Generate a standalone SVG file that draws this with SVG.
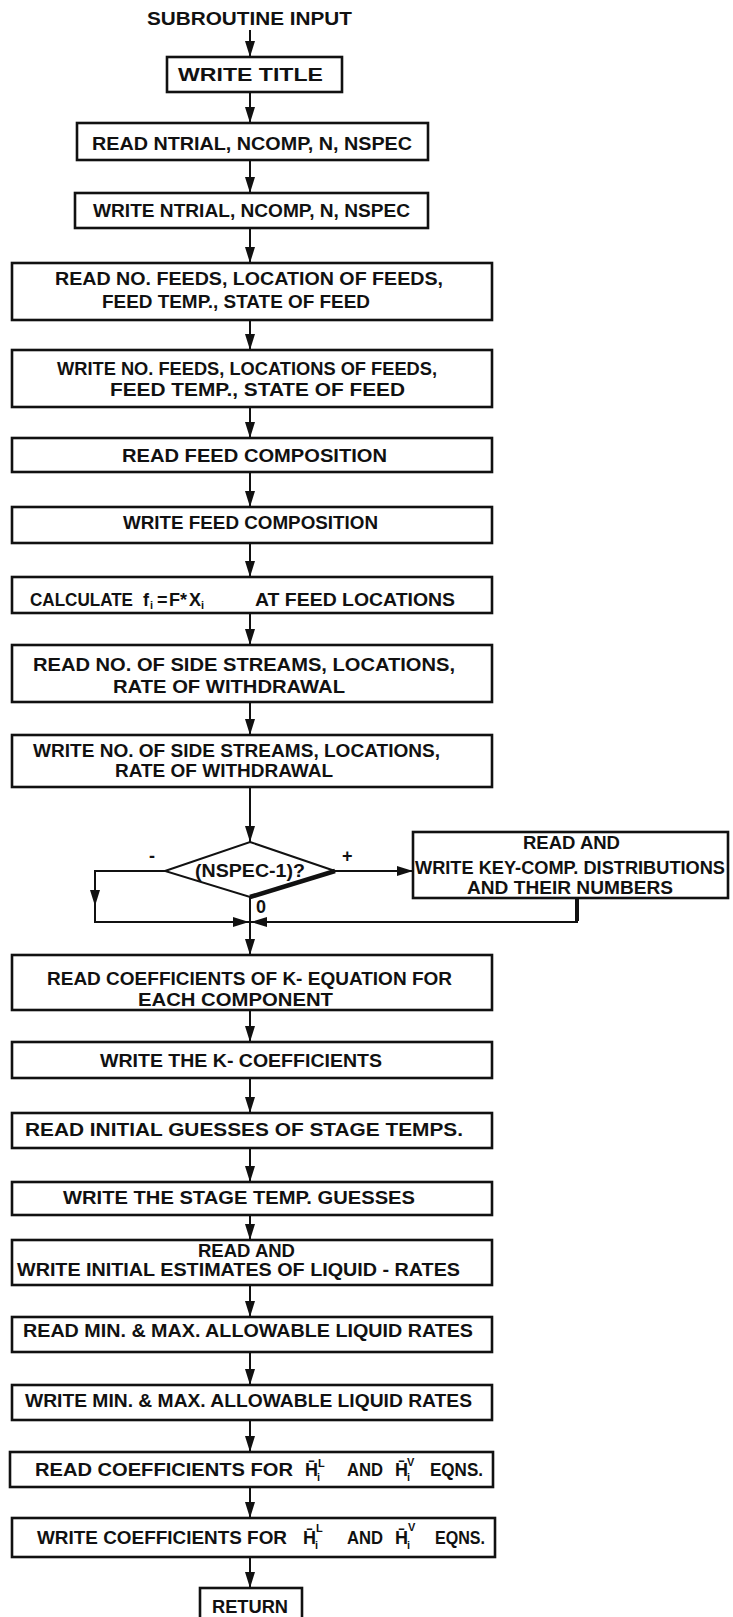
<svg xmlns="http://www.w3.org/2000/svg" width="733" height="1617" viewBox="0 0 733 1617">
<defs>
<style>
.t{font-family:"Liberation Sans",Arial,sans-serif;font-weight:bold;font-size:18px;fill:#111}
.s{font-family:"Liberation Sans",Arial,sans-serif;font-weight:bold;font-size:11px;fill:#111}
.b{fill:#fff;stroke:#111;stroke-width:2.6}
.c{fill:none;stroke:#111;stroke-width:2}
</style>
<marker id="ah" markerUnits="userSpaceOnUse" markerWidth="16" markerHeight="10" refX="16" refY="5" orient="auto">
<path d="M0,0 L16,5 L0,10 Z" fill="#111"/>
</marker>
</defs>
<rect width="733" height="1617" fill="#fff"/>

<g id="connectors">
<line class="c" x1="250" y1="30" x2="250" y2="57" marker-end="url(#ah)"/>
<line class="c" x1="250" y1="92" x2="250" y2="123" marker-end="url(#ah)"/>
<line class="c" x1="250" y1="160" x2="250" y2="193" marker-end="url(#ah)"/>
<line class="c" x1="250" y1="228" x2="250" y2="263" marker-end="url(#ah)"/>
<line class="c" x1="250" y1="320" x2="250" y2="350" marker-end="url(#ah)"/>
<line class="c" x1="250" y1="407" x2="250" y2="438" marker-end="url(#ah)"/>
<line class="c" x1="250" y1="472" x2="250" y2="507" marker-end="url(#ah)"/>
<line class="c" x1="250" y1="543" x2="250" y2="577" marker-end="url(#ah)"/>
<line class="c" x1="250" y1="613" x2="250" y2="645" marker-end="url(#ah)"/>
<line class="c" x1="250" y1="702" x2="250" y2="735" marker-end="url(#ah)"/>
<line class="c" x1="250" y1="787" x2="250" y2="842" marker-end="url(#ah)"/>
<line class="c" x1="335" y1="871" x2="413" y2="871" marker-end="url(#ah)"/>
<polyline class="c" points="165,871 95,871 95,906"/>
<line class="c" x1="95" y1="890" x2="95" y2="906" marker-end="url(#ah)"/>
<polyline class="c" points="95,905 95,922 249,922"/>
<line class="c" x1="230" y1="922" x2="249" y2="922" marker-end="url(#ah)"/>
<polyline class="c" points="577,898 577,922 251,922"/>
<line class="c" x1="270" y1="922" x2="251" y2="922" marker-end="url(#ah)"/>
<line x1="577" y1="898" x2="577" y2="921" stroke="#111" stroke-width="4"/>
<line class="c" x1="250" y1="897" x2="250" y2="955" marker-end="url(#ah)"/>
<line class="c" x1="250" y1="1010" x2="250" y2="1042" marker-end="url(#ah)"/>
<line class="c" x1="250" y1="1078" x2="250" y2="1113" marker-end="url(#ah)"/>
<line class="c" x1="250" y1="1148" x2="250" y2="1182" marker-end="url(#ah)"/>
<line class="c" x1="250" y1="1215" x2="250" y2="1240" marker-end="url(#ah)"/>
<line class="c" x1="250" y1="1285" x2="250" y2="1317" marker-end="url(#ah)"/>
<line class="c" x1="250" y1="1352" x2="250" y2="1385" marker-end="url(#ah)"/>
<line class="c" x1="250" y1="1420" x2="250" y2="1452" marker-end="url(#ah)"/>
<line class="c" x1="250" y1="1487" x2="250" y2="1518" marker-end="url(#ah)"/>
<line class="c" x1="250" y1="1557" x2="250" y2="1588" marker-end="url(#ah)"/>
</g>

<g id="start">
<text class="t" x="147" y="25" textLength="205" lengthAdjust="spacingAndGlyphs">SUBROUTINE INPUT</text>
</g>

<g id="write-title">
<rect class="b" x="167" y="57" width="175" height="35"/>
<text class="t" x="178" y="81" textLength="145" lengthAdjust="spacingAndGlyphs">WRITE TITLE</text>
</g>

<g id="read-ntrial">
<rect class="b" x="77" y="123" width="351" height="37"/>
<text class="t" x="92" y="150" textLength="320" lengthAdjust="spacingAndGlyphs">READ NTRIAL, NCOMP, N, NSPEC</text>
</g>

<g id="write-ntrial">
<rect class="b" x="75" y="193" width="353" height="35"/>
<text class="t" x="93" y="217" textLength="317" lengthAdjust="spacingAndGlyphs">WRITE NTRIAL, NCOMP, N, NSPEC</text>
</g>

<g id="read-feeds">
<rect class="b" x="12" y="263" width="480" height="57"/>
<text class="t" x="55" y="285" textLength="388" lengthAdjust="spacingAndGlyphs">READ NO. FEEDS, LOCATION OF FEEDS,</text>
<text class="t" x="102" y="308" textLength="268" lengthAdjust="spacingAndGlyphs">FEED TEMP., STATE OF FEED</text>
</g>

<g id="write-feeds">
<rect class="b" x="12" y="350" width="480" height="57"/>
<text class="t" x="57" y="375" textLength="380" lengthAdjust="spacingAndGlyphs">WRITE NO. FEEDS, LOCATIONS OF FEEDS,</text>
<text class="t" x="110" y="396" textLength="295" lengthAdjust="spacingAndGlyphs">FEED TEMP., STATE OF FEED</text>
</g>

<g id="read-comp">
<rect class="b" x="12" y="438" width="480" height="34"/>
<text class="t" x="122" y="462" textLength="265" lengthAdjust="spacingAndGlyphs">READ FEED COMPOSITION</text>
</g>

<g id="write-comp">
<rect class="b" x="12" y="507" width="480" height="36"/>
<text class="t" x="123" y="529" textLength="255" lengthAdjust="spacingAndGlyphs">WRITE FEED COMPOSITION</text>
</g>

<g id="calculate">
<rect class="b" x="12" y="577" width="480" height="36"/>
<text class="t" x="30" y="606" textLength="103" lengthAdjust="spacingAndGlyphs">CALCULATE</text>
<text class="t" x="143" y="606">f</text>
<text class="s" x="150" y="609">i</text>
<text class="t" x="157" y="606">=</text>
<text class="t" x="169" y="606">F</text>
<text class="t" x="180" y="606">*</text>
<text class="t" x="189" y="606">X</text>
<text class="s" x="201" y="609">i</text>
<text class="t" x="255" y="606" textLength="200" lengthAdjust="spacingAndGlyphs">AT FEED LOCATIONS</text>
</g>

<g id="read-side">
<rect class="b" x="12" y="645" width="480" height="57"/>
<text class="t" x="33" y="671" textLength="422" lengthAdjust="spacingAndGlyphs">READ NO. OF SIDE STREAMS, LOCATIONS,</text>
<text class="t" x="113" y="693" textLength="232" lengthAdjust="spacingAndGlyphs">RATE OF WITHDRAWAL</text>
</g>

<g id="write-side">
<rect class="b" x="12" y="735" width="480" height="52"/>
<text class="t" x="33" y="757" textLength="407" lengthAdjust="spacingAndGlyphs">WRITE NO. OF SIDE STREAMS, LOCATIONS,</text>
<text class="t" x="115" y="777" textLength="218" lengthAdjust="spacingAndGlyphs">RATE OF WITHDRAWAL</text>
</g>

<g id="decision">
<polygon points="250,842 335,871 250,897 165,871" fill="#fff" stroke="#111" stroke-width="2"/>
<line x1="250" y1="897" x2="335" y2="871" stroke="#111" stroke-width="4.5"/>
<text class="t" x="195" y="877" textLength="110" lengthAdjust="spacingAndGlyphs">(NSPEC-1)?</text>
<text class="t" x="149" y="862" font-size="20">-</text>
<text class="t" x="342" y="862">+</text>
<text class="t" x="256" y="913">0</text>
</g>

<g id="key-comp">
<rect class="b" x="413" y="832" width="315" height="66" stroke-width="3"/>
<text class="t" x="523" y="849" textLength="97" lengthAdjust="spacingAndGlyphs">READ AND</text>
<text class="t" x="415" y="874" textLength="310" lengthAdjust="spacingAndGlyphs">WRITE KEY-COMP. DISTRIBUTIONS</text>
<text class="t" x="467" y="894" textLength="206" lengthAdjust="spacingAndGlyphs">AND THEIR NUMBERS</text>
</g>

<g id="read-kcoef">
<rect class="b" x="12" y="955" width="480" height="55"/>
<text class="t" x="47" y="985" textLength="405" lengthAdjust="spacingAndGlyphs">READ COEFFICIENTS OF K- EQUATION FOR</text>
<text class="t" x="138" y="1006" textLength="195" lengthAdjust="spacingAndGlyphs">EACH COMPONENT</text>
</g>

<g id="write-kcoef">
<rect class="b" x="12" y="1042" width="480" height="36"/>
<text class="t" x="100" y="1067" textLength="282" lengthAdjust="spacingAndGlyphs">WRITE THE K- COEFFICIENTS</text>
</g>

<g id="read-temps">
<rect class="b" x="12" y="1113" width="480" height="35"/>
<text class="t" x="25" y="1136" textLength="438" lengthAdjust="spacingAndGlyphs">READ INITIAL GUESSES OF STAGE TEMPS.</text>
</g>

<g id="write-temps">
<rect class="b" x="12" y="1182" width="480" height="33"/>
<text class="t" x="63" y="1204" textLength="352" lengthAdjust="spacingAndGlyphs">WRITE THE STAGE TEMP. GUESSES</text>
</g>

<g id="liquid-rates">
<rect class="b" x="12" y="1240" width="480" height="45"/>
<text class="t" x="198" y="1257" textLength="97" lengthAdjust="spacingAndGlyphs">READ AND</text>
<text class="t" x="17" y="1276" textLength="443" lengthAdjust="spacingAndGlyphs">WRITE INITIAL ESTIMATES OF LIQUID - RATES</text>
</g>

<g id="read-minmax">
<rect class="b" x="12" y="1317" width="480" height="35"/>
<text class="t" x="23" y="1337" textLength="450" lengthAdjust="spacingAndGlyphs">READ MIN. &amp; MAX. ALLOWABLE LIQUID RATES</text>
</g>

<g id="write-minmax">
<rect class="b" x="12" y="1385" width="480" height="35"/>
<text class="t" x="25" y="1407" textLength="447" lengthAdjust="spacingAndGlyphs">WRITE MIN. &amp; MAX. ALLOWABLE LIQUID RATES</text>
</g>

<g id="read-h">
<rect class="b" x="10" y="1452" width="483" height="35"/>
<text class="t" x="35" y="1476" textLength="258" lengthAdjust="spacingAndGlyphs">READ COEFFICIENTS FOR</text>
<text class="t" x="305" y="1476">H̄</text>
<text class="s" x="317" y="1481">i</text>
<text class="s" x="318" y="1467">L</text>
<text class="t" x="347" y="1476" textLength="36" lengthAdjust="spacingAndGlyphs">AND</text>
<text class="t" x="395" y="1476">H̄</text>
<text class="s" x="407" y="1481">i</text>
<text class="s" x="407" y="1466">V</text>
<text class="t" x="430" y="1476" textLength="53" lengthAdjust="spacingAndGlyphs">EQNS.</text>
</g>

<g id="write-h">
<rect class="b" x="12" y="1518" width="483" height="39"/>
<text class="t" x="37" y="1544" textLength="250" lengthAdjust="spacingAndGlyphs">WRITE COEFFICIENTS FOR</text>
<text class="t" x="303" y="1544">H̄</text>
<text class="s" x="315" y="1549">i</text>
<text class="s" x="316" y="1532">L</text>
<text class="t" x="347" y="1544" textLength="36" lengthAdjust="spacingAndGlyphs">AND</text>
<text class="t" x="395" y="1544">H̄</text>
<text class="s" x="407" y="1549">i</text>
<text class="s" x="408" y="1531">V</text>
<text class="t" x="435" y="1544" textLength="50" lengthAdjust="spacingAndGlyphs">EQNS.</text>
</g>

<g id="return">
<rect class="b" x="200" y="1588" width="102" height="40"/>
<text class="t" x="212" y="1613" textLength="76" lengthAdjust="spacingAndGlyphs">RETURN</text>
</g>
</svg>
